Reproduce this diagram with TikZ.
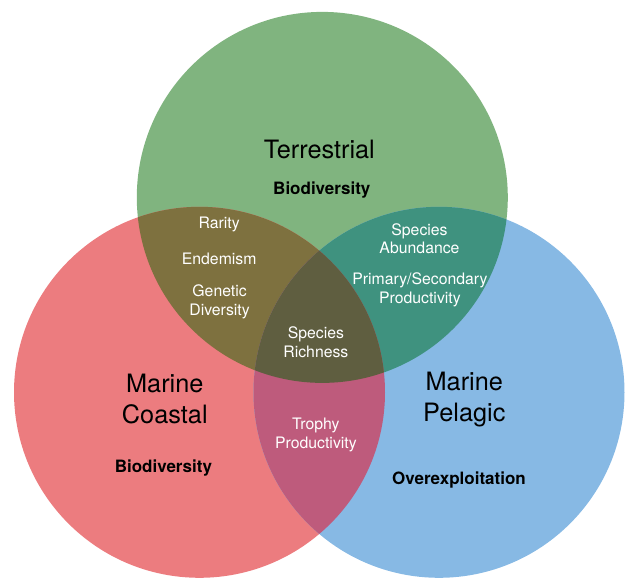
\documentclass[tikz,border=0pt]{standalone}
\usepackage{fontspec}
\setmainfont{TeX Gyre Heros}
\definecolor{cgreen}{HTML}{80B47F}
\definecolor{cred}{HTML}{EC7C7F}
\definecolor{cblue}{HTML}{87B9E4}
\definecolor{colive}{HTML}{7E713F}
\definecolor{cteal}{HTML}{3F927F}
\definecolor{cmagenta}{HTML}{BE5B7C}
\definecolor{ccenter}{HTML}{5F5E40}
\begin{document}
\begin{tikzpicture}[x=1pt,y=-1pt,
  title/.style={font=\fontsize{25.3}{30.5}\selectfont, text=black, align=center, inner sep=0pt},
  sub/.style={font=\fontsize{17}{19}\selectfont\bfseries, text=black, inner sep=0pt},
  lab/.style={font=\fontsize{15.8}{18.7}\selectfont, text=white, align=center, inner sep=0pt}]
\useasboundingbox (0,0) rectangle (625,578);
\begin{scope}
\clip (0,0) rectangle (625,578);
\coordinate (cg) at (322.3,197.4);
\coordinate (cr) at (199.5,392.3);
\coordinate (cb) at (439,392.3);
\def\RR{185.5pt}
% single circles
\fill[cgreen] (cg) circle[radius=\RR];
\fill[cred] (cr) circle[radius=\RR];
\fill[cblue] (cb) circle[radius=\RR];
% pairwise overlaps
\begin{scope}
  \clip (cg) circle[radius=\RR];
  \fill[colive] (cr) circle[radius=\RR];
  \fill[cteal] (cb) circle[radius=\RR];
\end{scope}
\begin{scope}
  \clip (cr) circle[radius=\RR];
  \fill[cmagenta] (cb) circle[radius=\RR];
\end{scope}
% triple overlap
\begin{scope}
  \clip (cg) circle[radius=\RR];
  \clip (cr) circle[radius=\RR];
  \fill[ccenter] (cb) circle[radius=\RR];
\end{scope}
\end{scope}
% texts
\node[title, anchor=base] (terr) at (319.3,159) {Terrestrial};
\node[sub, anchor=base] (tbio) at (321.8,194) {Biodiversity};
\node[lab, anchor=base] (rar) at (219.2,229) {Rarity};
\node[lab, anchor=base] (end) at (219.2,264) {Endemism};
\node[lab] (gen) at (219.6,302) {Genetic\\Diversity};
\node[lab] (rich) at (315.9,341.9) {Species\\Richness};
\node[lab] (abund) at (419.5,238.8) {Species\\Abundance};
\node[lab] (prim) at (419.9,289.5) {Primary/Secondary\\Productivity};
\node[lab] (troph) at (315.9,434.7) {Trophy\\Productivity};
\node[title] (coast) at (164.8,398.9) {Marine\\Coastal};
\node[sub, anchor=base] (cbio) at (163.4,472) {Biodiversity};
\node[title] (pel) at (464.3,399.5) {Marine\\Pelagic};
\node[sub, anchor=base] (over) at (459,484) {Overexploitation};
\end{tikzpicture}
\end{document}
